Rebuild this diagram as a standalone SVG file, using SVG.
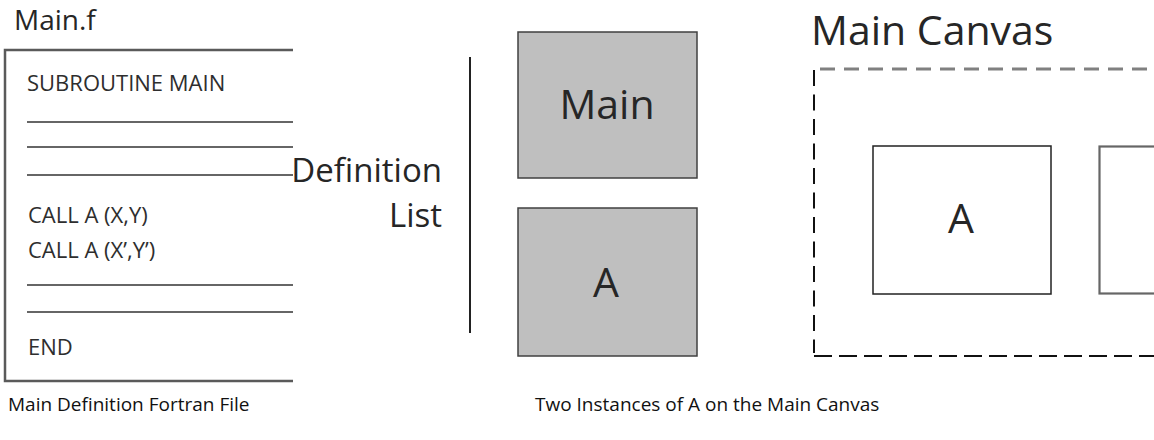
<svg xmlns="http://www.w3.org/2000/svg" width="1154" height="440" viewBox="0 0 1154 440">
<style>
text{font-family:"Open Sans","Noto Sans","DejaVu Sans",sans-serif;fill:#262626}
.code{font-size:22px;fill:#2e2e2e}
.rule{stroke:#666;stroke-width:2.2;fill:none}
.big{font-size:41px}
.cap{font-size:19px;fill:#111}
.def{fill:#bfbfbf;stroke:#404040;stroke-width:1.5}
.inst{fill:#fff;stroke:#222;stroke-width:1.5}
</style>
<rect width="1154" height="440" fill="#fff"/>
<g id="file">
<text x="14" y="30" style="font-size:28px">Main.f</text>
<path d="M293,50 H5 V381 H293" fill="none" stroke="#5a5a5a" stroke-width="2.5"/>
<text class="code" x="27" y="91">SUBROUTINE MAIN</text>
<line class="rule" x1="27" y1="122" x2="293" y2="122"/>
<line class="rule" x1="27" y1="147" x2="293" y2="147"/>
<line class="rule" x1="27" y1="175" x2="293" y2="175" stroke="#333"/>
<text class="code" x="28" y="223">CALL A (X,Y)</text>
<text class="code" x="28" y="258">CALL A (X’,Y’)</text>
<line class="rule" x1="27" y1="285" x2="293" y2="285"/>
<line class="rule" x1="27" y1="312" x2="293" y2="312"/>
<text class="code" x="28" y="355">END</text>
<text class="cap" x="8" y="411">Main Definition Fortran File</text>
</g>
<g id="definition-list">
<text x="442" y="182" text-anchor="end" style="font-size:33px">Definition</text>
<text x="442" y="227" text-anchor="end" style="font-size:33px">List</text>
</g>
<g id="connectors">
<line x1="470" y1="57" x2="470" y2="333" stroke="#222" stroke-width="2"/>
</g>
<g id="def-main">
<rect class="def" x="518" y="32" width="179" height="146"/>
<text class="big" x="607" y="119" text-anchor="middle">Main</text>
</g>
<g id="def-a">
<rect class="def" x="518" y="208" width="179" height="148"/>
<text class="big" x="606" y="297" text-anchor="middle">A</text>
</g>
<g id="main-canvas">
<text class="big" x="811" y="45">Main Canvas</text>
<line x1="820" y1="69" x2="1154" y2="69" stroke="#808080" stroke-width="3" stroke-dasharray="15 9"/>
<line x1="814" y1="70" x2="814" y2="353" stroke="#111" stroke-width="2" stroke-dasharray="16 8.5"/>
<line x1="814" y1="356" x2="1154" y2="356" stroke="#111" stroke-width="2.2" stroke-dasharray="18 7"/>
<text class="cap" x="535" y="411">Two Instances of A on the Main Canvas</text>
</g>
<g id="instance-a1">
<rect class="inst" x="873" y="146" width="178" height="148"/>
<text class="big" x="961" y="233" text-anchor="middle">A</text>
</g>
<g id="instance-a2">
<rect x="1099.5" y="146.5" width="80" height="147" fill="#fff" stroke="#666" stroke-width="2.2"/>
</g>
</svg>
